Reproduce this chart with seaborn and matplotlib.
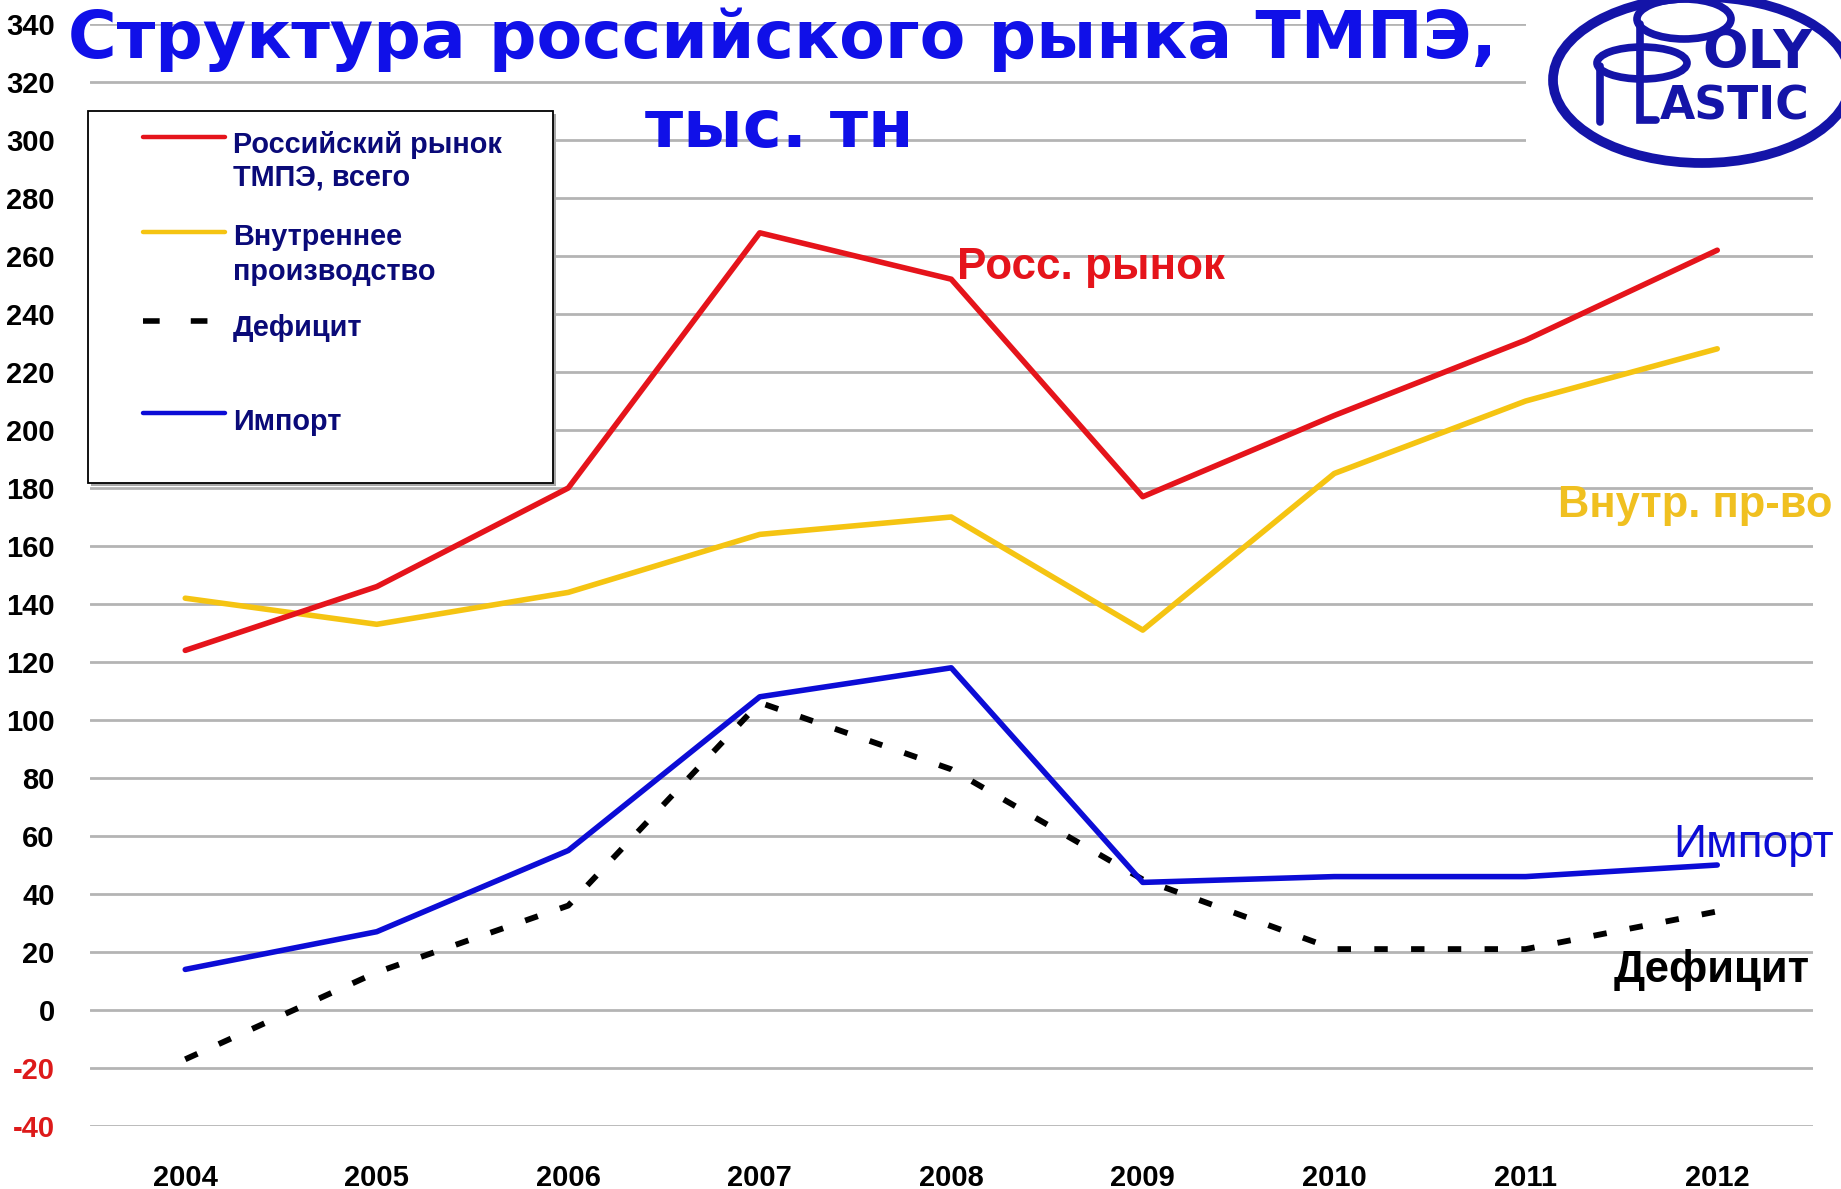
import numpy as np
import pandas as pd
import seaborn as sns
import matplotlib
matplotlib.use("Agg")
import matplotlib.pyplot as plt
from matplotlib.patches import Ellipse, Rectangle
from matplotlib.lines import Line2D

# ---------------- data ----------------
years = ["2004", "2005", "2006", "2007", "2008", "2009", "2010", "2011", "2012"]
market = [124, 146, 180, 268, 252, 177, 205, 231, 262]      # Российский рынок ТМПЭ, всего
domestic = [142, 133, 144, 164, 170, 131, 185, 210, 228]    # Внутреннее производство
deficit = [-17, 13, 36, 106, 83, 45, 21, 21, 34]            # Дефицит
imports = [14, 27, 55, 108, 118, 44, 46, 46, 50]            # Импорт
yticks = list(range(-40, 341, 20))

legend_labels = [["Российский рынок", "ТМПЭ, всего"],
                 ["Внутреннее", "производство"],
                 ["Дефицит"],
                 ["Импорт"]]
title_line1 = "Структура российского рынка ТМПЭ,"
title_line2 = "тыс. тн"

RED = "#e5141b"
YEL = "#f5c412"
BLU = "#0c0cd6"
BLK = "#000000"
NAVY = "#0a0a78"
TITLE_BLUE = "#1010e8"
LOGO_BLUE = "#1414a8"

sns.set_theme(style="white")
plt.rcParams["font.family"] = ["Liberation Sans", "DejaVu Sans"]
plt.rcParams["text.color"] = "black"
plt.rcParams["xtick.color"] = "black"
plt.rcParams["ytick.color"] = "black"

W, H = 1841, 1189
fig = plt.figure(figsize=(W / 100, H / 100), dpi=100)
fig.patch.set_facecolor("white")

ax = fig.add_axes([89.5 / W, 1 - 1126 / H, (1813 - 89.5) / W, (1126 - 24) / H])

df = pd.DataFrame({"pos": np.arange(len(years)), "year": years,
                   "market": market, "domestic": domestic,
                   "deficit": deficit, "imports": imports})

lw = 4.0
sns.lineplot(data=df, x="pos", y="domestic", color=YEL, lw=lw, ax=ax, legend=False, sort=False)
sns.lineplot(data=df, x="pos", y="market", color=RED, lw=lw, ax=ax, legend=False, sort=False)
sns.lineplot(data=df, x="pos", y="deficit", color=BLK, lw=4.2, ax=ax, legend=False, sort=False,
             linestyle=(0, (2.3, 4.0)))
sns.lineplot(data=df, x="pos", y="imports", color=BLU, lw=lw, ax=ax, legend=False, sort=False)

ax.set_xlim(-0.5, len(years) - 0.5)
ax.set_ylim(-40, 340)
ax.set_xticks(df["pos"])
ax.set_xticklabels(years)
ax.set_yticks(yticks)
ax.set_yticklabels([str(v) for v in yticks])
ax.set_xlabel("")
ax.set_ylabel("")
for s in ax.spines.values():
    s.set_visible(False)
ax.set_axisbelow(True)
ax.yaxis.grid(True, color="#b4b4b4", lw=2.0)
ax.xaxis.grid(False)
ax.tick_params(axis="y", length=0, pad=25, labelsize=21)
ax.tick_params(axis="x", length=0, pad=27, labelsize=21)
for lab, v in zip(ax.get_yticklabels(), yticks):
    lab.set_fontweight("bold")
    lab.set_color("#dd1a1a" if v < 0 else "black")
for lab in ax.get_xticklabels():
    lab.set_fontweight("bold")
    lab.set_color("black")

# series labels in data coordinates
t_market = ax.text(4.03, 256, "Росс. рынок", color=RED, fontsize=28, fontweight="bold",
                   va="center", ha="left", clip_on=False)
t_dom = ax.text(7.17, 174, "Внутр. пр-во", color="#f0c020", fontsize=28, fontweight="bold",
                va="center", ha="left", clip_on=False)
t_imp = ax.text(7.77, 57, "Импорт", color=BLU, fontsize=28,
                va="center", ha="left", clip_on=False)
t_def = ax.text(7.46, 13.8, "Дефицит", color=BLK, fontsize=28, fontweight="bold",
                va="center", ha="left", clip_on=False)

# ---------------- overlay in pixel coordinates ----------------
ov = fig.add_axes([0, 0, 1, 1], zorder=10)
ov.set_xlim(0, W)
ov.set_ylim(H, 0)
ov.axis("off")
ov.patch.set_alpha(0)

# title
t1 = ov.text(68, 58, title_line1, color=TITLE_BLUE, fontsize=40, fontweight="bold",
             family=["DejaVu Sans"], ha="left", va="baseline")
t2 = ov.text(645, 147, title_line2, color=TITLE_BLUE, fontsize=40, fontweight="bold",
             family=["DejaVu Sans"], ha="left", va="baseline")

# legend box
ov.add_patch(Rectangle((91, 114), 465, 372, fc="#a8a8a8", ec="none"))
ov.add_patch(Rectangle((88, 111), 465, 372, fc="white", ec="black", lw=1.3))
handle_specs = [(137, RED, "-"), (232, YEL, "-"), (321, BLK, (0, (3.0, 5.6))), (413, BLU, "-")]
text_rows = [[145, 178], [237, 272], [328], [422]]
leg_texts = []
for (hy, col, ls), rows, labs in zip(handle_specs, text_rows, legend_labels):
    ov.add_line(Line2D([143, 225], [hy, hy], color=col, lw=3.2 if ls == "-" else 4.0,
                       linestyle=ls, solid_capstyle="round"))
    for ry, lab in zip(rows, labs):
        leg_texts.append(ov.text(233, ry, lab, color=NAVY, fontsize=18, fontweight="bold",
                                 ha="left", va="center"))

# logo
ov.add_patch(Rectangle((1526, 0), W - 1526, 172, fc="white", ec="none"))
ov.add_patch(Ellipse((1702, 80), 298, 166, fill=False, ec=LOGO_BLUE, lw=7))
ov.add_patch(Ellipse((1684, 19), 94, 40, fill=False, ec=LOGO_BLUE, lw=5.5))
ov.add_patch(Ellipse((1642, 63), 90, 32, fill=False, ec=LOGO_BLUE, lw=5.5))
ov.add_line(Line2D([1640, 1640, 1656], [24, 120, 120], color=LOGO_BLUE, lw=5.5,
                   solid_joinstyle="miter"))
ov.add_line(Line2D([1600, 1600], [66, 122], color=LOGO_BLUE, lw=5.5))
t_oly = ov.text(1758, 68, "OLY", color=LOGO_BLUE, fontsize=31, fontweight="bold",
                family=["DejaVu Sans"], ha="center", va="baseline")
t_astic = ov.text(1735, 120, "ASTIC", color=LOGO_BLUE, fontsize=31, fontweight="bold",
                  family=["DejaVu Sans"], ha="center", va="baseline")

# fit text widths to measured extents
fig.canvas.draw()
r = fig.canvas.get_renderer()


def fit(t, target):
    w = t.get_window_extent(r).width
    t.set_fontsize(t.get_fontsize() * target / w)


fit(t1, 1425)
fit(t2, 268)
fit(t_market, 268)
fit(t_dom, 275)
fit(t_imp, 161)
fit(t_def, 197)
fit(t_oly, 110)
fit(t_astic, 150)
w0 = leg_texts[0].get_window_extent(r).width
fs_leg = leg_texts[0].get_fontsize() * 270 / w0
for t in leg_texts:
    t.set_fontsize(fs_leg)

fig.savefig("out.png", dpi=100, facecolor="white")
